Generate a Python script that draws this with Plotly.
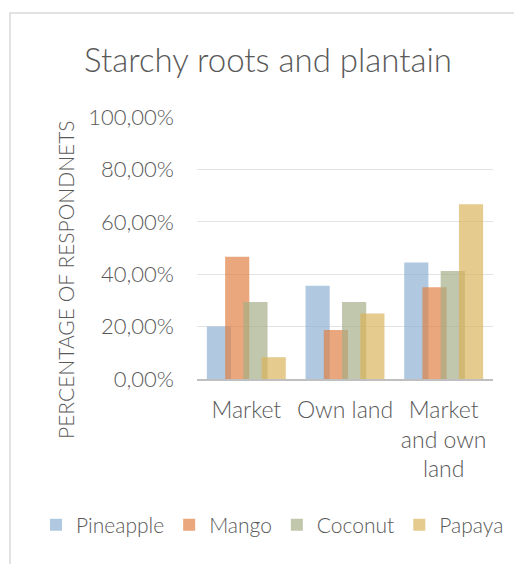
import plotly.graph_objects as go

categories = ["Market", "Own land", "Market<br>and own<br>land"]
series_names = ["Pineapple", "Mango", "Coconut", "Papaya"]
pineapple = [0.20, 0.3556, 0.4444]
mango = [0.4667, 0.1875, 0.35]
coconut = [0.2941, 0.2941, 0.4118]
papaya = [0.0833, 0.25, 0.6667]
y_ticks = [0, 0.2, 0.4, 0.6, 0.8, 1.0]

values = [pineapple, mango, coconut, papaya]
colors = ["rgba(138,176,210,0.68)", "rgba(224,125,64,0.68)", "rgba(163,173,132,0.68)", "rgba(216,178,88,0.68)"]
offsets = [-0.40, -0.215, -0.03, 0.155]
bar_w = 0.245

# page body has an 8px margin; work in window pixel coordinates
OFF = 8
W, H = 522 - OFF, 564 - OFF
L, R, T, B = 197 - OFF, 29, 117 - OFF, 564 - 379
pw, ph = W - L - R, H - T - B

fig = go.Figure()
for name, vals, col, off in zip(series_names, values, colors, offsets):
    fig.add_trace(go.Bar(
        name=name, x=categories, y=vals,
        marker=dict(color=col, line=dict(width=0)),
        width=bar_w, offset=off,
    ))

font_family = "Lato, Open Sans, sans-serif"
grey = "#595959"

def px_x(x):
    return (x - OFF - L) / pw

def px_y(y):
    return (H - B - (y - OFF)) / ph

fig.update_layout(
    width=W, height=H,
    margin=dict(l=L, r=R, t=T, b=B, autoexpand=False),
    paper_bgcolor="white", plot_bgcolor="white",
    separators=", ",
    barmode="overlay",
    font=dict(family=font_family, color=grey, size=22, weight=300),
    title=dict(text="Starchy roots and plantain", x=(268 - OFF) / W, xref="container", xanchor="center",
               y=1 - (60 - OFF) / H, yref="container", yanchor="middle",
               font=dict(size=33, color=grey, family=font_family, weight=300)),
    showlegend=True,
    legend=dict(orientation="h", x=px_x(36), xanchor="left", y=px_y(525), yanchor="middle",
                font=dict(size=21, color=grey, weight=300), itemwidth=30, traceorder="normal",
                bgcolor="rgba(0,0,0,0)"),
    xaxis=dict(range=[-0.5, 2.5], showgrid=False, showline=True, linecolor="#bfbfbf", linewidth=2,
               ticks="", tickfont=dict(size=23, color=grey, weight=300), ticklabelstandoff=9,
               fixedrange=True),
    yaxis=dict(range=[0, 1.0], tickvals=y_ticks, tickformat=".2%", showgrid=True, gridcolor="#e3e3e3",
               gridwidth=1, zeroline=False, showline=False, ticks="", ticklabelstandoff=22,
               tickfont=dict(size=22, color=grey, weight=300)),
    shapes=[dict(type="rect", xref="paper", yref="paper",
                 x0=px_x(10), x1=px_x(540), y0=px_y(600), y1=px_y(13),
                 line=dict(color="#d9d9d9", width=1.5), fillcolor="rgba(0,0,0,0)", layer="below")],
    annotations=[dict(text="PERCENTAGE OF RESPONDNETS", xref="paper", yref="paper",
                      x=px_x(65), y=px_y(280), xanchor="center", yanchor="middle",
                      textangle=-90, showarrow=False, font=dict(size=21, color=grey, weight=300))],
)

fig.write_html("out.html")
